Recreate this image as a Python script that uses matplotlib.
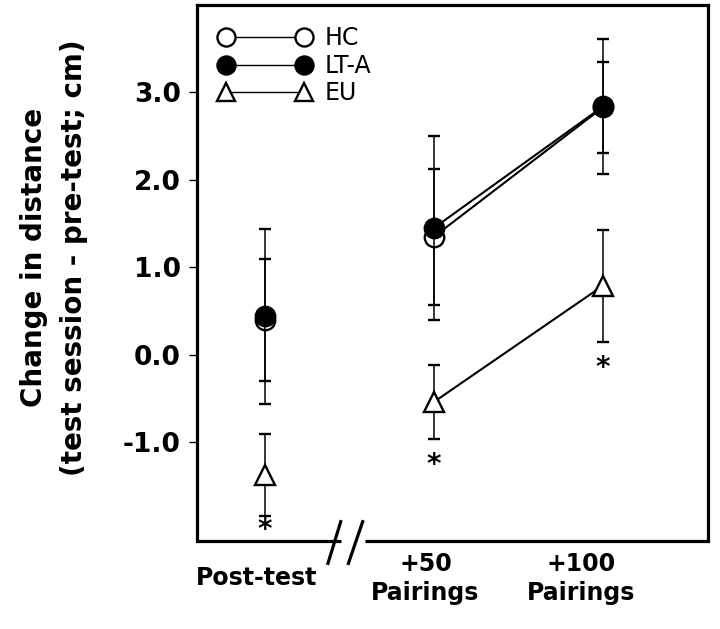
import matplotlib.pyplot as plt
from matplotlib.lines import Line2D

plt.rcParams['font.family'] = 'DejaVu Sans'

# -------------------------------
# Data
# -------------------------------
stages = ["Post-test", "+50\nPairings", "+100\nPairings"]
x_pos = [0, 1, 2]

hc_mean = [0.40, 1.35, 2.83]
hc_err = [0.70, 0.78, 0.52]
lta_mean = [0.44, 1.45, 2.84]
lta_err = [1.00, 1.05, 0.77]
eu_mean = [-1.38, -0.54, 0.79]
eu_err = [0.47, 0.42, 0.64]
star_y = [-2.0, -1.26, -0.15]   # significance markers under EU


def main():
    fig = plt.figure(figsize=(7.2, 6.29), dpi=100)
    ax = fig.add_axes([0.274, 0.140, 0.709, 0.852])

    ms = 14
    eb = dict(color="black", elinewidth=1.1, capsize=4.5, capthick=1.1,
              linestyle="none", markersize=ms, markeredgewidth=1.7)

    # lines joining +50 and +100 only (post-test is separated by a break)
    ax.plot(x_pos[1:], hc_mean[1:], color="black", lw=1.5, zorder=1)
    ax.plot(x_pos[1:], lta_mean[1:], color="black", lw=1.5, zorder=1)
    ax.plot(x_pos[1:], eu_mean[1:], color="black", lw=1.5, zorder=1)

    ax.errorbar(x_pos, hc_mean, yerr=hc_err, marker="o", mfc="white",
                mec="black", zorder=3, **eb)
    ax.errorbar(x_pos, lta_mean, yerr=lta_err, marker="o", mfc="black",
                mec="black", zorder=4, **eb)
    ax.errorbar(x_pos, eu_mean, yerr=eu_err, marker="^", mfc="white",
                mec="black", zorder=3, **eb)

    for x, y in zip(x_pos, star_y):
        ax.text(x, y, "*", ha="center", va="center", fontsize=20,
                fontweight="bold")

    ax.set_xlim(-0.40, 2.62)
    ax.set_ylim(-2.13, 4.0)

    # y axis
    ax.set_yticks([-1, 0, 1, 2, 3])
    ax.set_yticklabels(["-1.0", "0.0", "1.0", "2.0", "3.0"],
                       fontsize=19, fontweight="bold")
    ax.tick_params(axis="y", direction="out", length=6, width=1, pad=6)
    ax.set_xticks([])

    for side in ["left", "top", "right"]:
        ax.spines[side].set_linewidth(2.3)
    ax.spines["bottom"].set_visible(False)

    # bottom spine with axis break
    tr = ax.transAxes
    ax.plot([0, 0.281], [0, 0], color="black", lw=2.3, transform=tr,
            clip_on=False, solid_capstyle="butt")
    ax.plot([0.329, 1], [0, 0], color="black", lw=2.3, transform=tr,
            clip_on=False, solid_capstyle="butt")
    ax.plot([0.256, 0.281], [-0.042, 0.036], color="black", lw=2.3,
            transform=tr, clip_on=False)
    ax.plot([0.296, 0.324], [-0.042, 0.036], color="black", lw=2.3,
            transform=tr, clip_on=False)

    # category labels
    label_x = [-0.05, 0.95, 1.87]
    xt = ax.get_xaxis_transform()
    for x, lab in zip(label_x, stages):
        ax.text(x, -0.07, lab, transform=xt, ha="center", va="center",
                fontsize=17, fontweight="bold", linespacing=1.3)

    fig.text(0.075, 0.59, "Change in distance\n(test session - pre-test; cm)",
             rotation=90, ha="center", va="center", fontsize=20,
             fontweight="bold", linespacing=1.55)

    # legend
    handles = [
        Line2D([], [], color="black", lw=1, marker="o", mfc="white",
               mec="black", markersize=ms - 1, markeredgewidth=1.7),
        Line2D([], [], color="black", lw=1, marker="o", mfc="black",
               mec="black", markersize=ms - 1, markeredgewidth=1.7),
        Line2D([], [], color="black", lw=1, marker="^", mfc="white",
               mec="black", markersize=ms - 1, markeredgewidth=1.7),
    ]
    ax.legend(handles, ["HC", "LT-A", "EU"], numpoints=2, frameon=False,
              loc="upper left", bbox_to_anchor=(0.0, 1.0), fontsize=17,
              handlelength=3.9, handletextpad=0.6, labelspacing=0.15,
              borderaxespad=0.5)

    plt.savefig("out.png")
    plt.close()


if __name__ == "__main__":
    main()
